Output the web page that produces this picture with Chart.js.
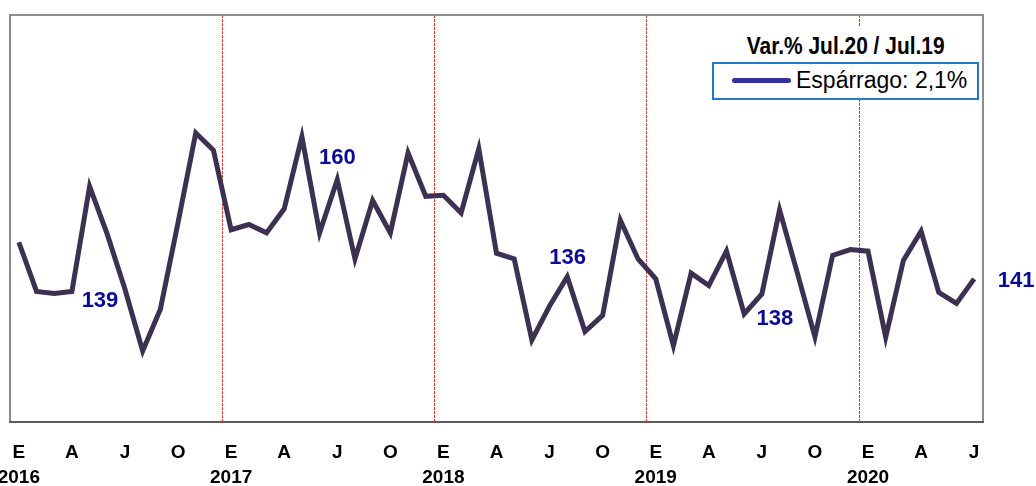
<!DOCTYPE html>
<html>
<head>
<meta charset="utf-8">
<script src="https://cdn.jsdelivr.net/npm/chart.js@4.4.1/dist/chart.umd.min.js"></script>
<style>
  html, body { margin:0; padding:0; background:#fff; }
  #wrap { position:relative; width:1036px; height:486px; overflow:hidden; }
  #c { position:absolute; left:0; top:0; }
  #ttl { position:absolute; left:712px; top:26px; width:267px; height:36px; background:#fff;
         font-family:"Liberation Sans", Arial, sans-serif; font-weight:bold; font-size:23px;
         line-height:40px; text-align:center; color:#000; white-space:nowrap; }
  #ttl span { display:inline-block; transform:scaleX(0.91); }
  #leg { position:absolute; left:712px; top:62px; width:267px; height:38px; box-sizing:border-box;
         border:2px solid #1e7bc8; background:#fff; }
  #legLine { position:absolute; left:732px; top:78px; width:59px; height:5px; border-radius:3px; background:#333399; }
  #legTxt { position:absolute; left:796px; top:64px; height:32px; line-height:32px;
            font-family:"Liberation Sans", Arial, sans-serif; font-size:23px; color:#000; white-space:nowrap; }
</style>
</head>
<body>
<div id="wrap">
  <canvas id="c" width="1036" height="486"></canvas>
  <div id="ttl"><span>Var.% Jul.20 / Jul.19</span></div>
  <div id="leg"></div>
  <div id="legLine"></div>
  <div id="legTxt">Espárrago: 2,1%</div>
</div>
<script>
// ---- data ----
const monthLetters = ['E','F','M','A','M','J','J','A','S','O','N','D'];
const years = ['2016','2017','2018','2019','2020'];
const shownMonths = ['E','A','J','O'];
const values = [
  148.0,138.6,138.2,138.6,158.7,149.5,139.0,127.2,135.2,151.8,168.9,165.6,
  150.4,151.4,149.8,154.4,168.2,149.8,160.0,144.8,156.0,149.8,165.1,156.8,
  157.0,153.6,165.9,145.9,144.8,129.3,135.8,141.4,130.9,134.0,152.2,144.8,
  141.0,128.2,142.1,139.7,146.3,134.3,138.1,154.2,142.2,129.9,145.5,146.6,
  146.3,129.8,144.5,150.1,138.4,136.3,141.0
];
const labeledIdx = [6, 18, 30, 42, 54];
const labelOffsets = [[-25, 12], [0, -22], [18, -48], [13, 25], [42, 2]];

const categories = [];
years.forEach(y => monthLetters.forEach(m => categories.push(m + ' ' + y)));
categories.length = values.length;

function tickLabel(i) {
  const m = categories[i].split(' ')[0];
  const y = categories[i].split(' ')[1];
  if (i % 3 !== 0 || shownMonths.indexOf(m) < 0) return '';
  return (i % 12 === 0) ? [m, y] : [m, ''];
}

const framePlugin = {
  id: 'frame',
  afterDatasetsDraw(chart) {
    const {ctx, chartArea: a, scales: {x, y}} = chart;
    ctx.save();
    ctx.lineWidth = 2;
    ctx.strokeStyle = '#8c8c8c';
    ctx.beginPath();
    ctx.moveTo(a.left, a.bottom); ctx.lineTo(a.left, a.top); ctx.lineTo(a.right, a.top); ctx.lineTo(a.right, a.bottom);
    ctx.stroke();
    ctx.strokeStyle = '#5c5c5c';
    ctx.beginPath(); ctx.moveTo(a.left - 1, a.bottom); ctx.lineTo(a.right + 1, a.bottom); ctx.stroke();
    ctx.fillStyle = '#0a0a96';
    ctx.font = 'bold 22px "Liberation Sans", Arial, sans-serif';
    ctx.textAlign = 'center';
    ctx.textBaseline = 'middle';
    labeledIdx.forEach((idx, k) => {
      const px = x.getPixelForValue(idx) + labelOffsets[k][0];
      const py = y.getPixelForValue(values[idx]) + labelOffsets[k][1];
      ctx.fillText(String(Math.round(values[idx])), px, py);
    });
    ctx.restore();
  }
};

new Chart(document.getElementById('c'), {
  type: 'line',
  data: {
    labels: categories,
    datasets: [{
      label: 'Espárrago',
      data: values,
      borderColor: '#3d3152',
      borderWidth: 5,
      pointRadius: 0,
      tension: 0,
      fill: false
    }]
  },
  options: {
    responsive: false,
    animation: false,
    events: [],
    layout: { padding: { left: 10, top: 15, right: 53, bottom: -22 } },
    plugins: { legend: { display: false }, tooltip: { enabled: false } },
    scales: {
      x: {
        offset: true,
        grid: {
          offset: true,
          drawTicks: false,
          lineWidth: 1,
          color: (c) => (c.index > 0 && c.index < values.length && c.index % 12 === 0) ? 'rgba(255,0,0,0.85)' : 'rgba(0,0,0,0)'
        },
        border: { display: false, dash: [3, 1] },
        afterFit: (s) => { s.paddingLeft = 0; s.paddingRight = 0; },
        ticks: {
          autoSkip: false,
          maxRotation: 0,
          minRotation: 0,
          padding: 18,
          color: '#000',
          font: { family: '"Liberation Sans", Arial, sans-serif', size: 19, weight: 'bold', lineHeight: 1.316 },
          callback: (v, i) => tickLabel(i)
        }
      },
      y: {
        display: false,
        min: 113.6,
        max: 191.5
      }
    }
  },
  plugins: [framePlugin]
});
</script>
</body>
</html>
